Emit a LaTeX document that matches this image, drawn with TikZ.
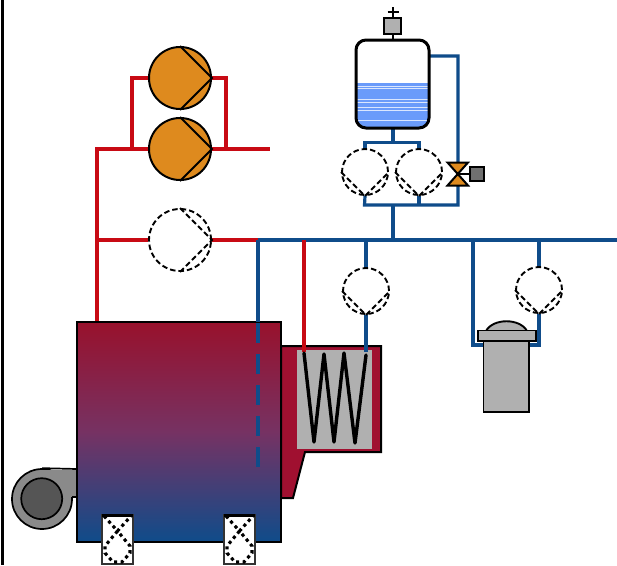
\documentclass[tikz,border=0pt]{standalone}
\usetikzlibrary{calc}
\definecolor{pipeblue}{HTML}{0F4C8A}
\definecolor{pipered}{HTML}{C80A14}
\definecolor{pumporange}{HTML}{DE8A1E}
\definecolor{fluered}{HTML}{A01030}
\definecolor{bred}{HTML}{98112C}
\definecolor{bmid}{HTML}{763263}
\definecolor{water}{HTML}{6A9BFA}
\definecolor{fangray}{HTML}{8A8A8A}
\definecolor{fandark}{HTML}{555555}
\definecolor{partgray}{HTML}{B0B0B0}
\tikzset{
  x=1pt,y=-1pt,
  bluepipe/.style={draw=pipeblue,line width=3.2pt,line join=miter},
  redpipe/.style={draw=pipered,line width=3.2pt,line join=miter},
  pumpon/.style={circle,draw=black,line width=2pt,fill=pumporange,minimum size=62pt,inner sep=0pt},
  pumpoff/.style={circle,draw=black,line width=1.9pt,dash pattern=on 5.5pt off 3pt,fill=white,minimum size=62pt,inner sep=0pt},
  pumpsmall/.style={pumpoff,minimum size=46pt},
  innerline/.style={line width=2pt,black},
  innerdash/.style={line width=1.9pt,black,dash pattern=on 5.5pt off 3pt},
  footdots/.style={line width=3.1pt,black,dash pattern=on 3.2pt off 3.4pt},
  partbox/.style={draw=black,line width=1.9pt,fill=partgray},
}
\begin{document}
\begin{tikzpicture}
\useasboundingbox (0,0) rectangle (617,565);
\fill[white] (0,0) rectangle (617,565);
\draw[black,line width=3pt] (2.3,0) -- (2.3,565);

% pumps
\node[pumpon] (p1) at (180,78) {};
\node[pumpon] (p2) at (180,149) {};
\node[pumpoff] (p3) at (180,240) {};
\node[pumpsmall] (p4) at (365,172) {};
\node[pumpsmall] (p5) at (419,172) {};
\node[pumpsmall] (p6) at (366,291) {};
\node[pumpsmall] (p7) at (539,290) {};

% named pipe points
\coordinate (rA) at (97,322);
\coordinate (rB) at (97,149);
\coordinate (rC) at (97,240);
\coordinate (rD) at (132,149);
\coordinate (rE) at (226,149);
\coordinate (rF) at (270,149);
\coordinate (j1) at (258,240);
\coordinate (j2) at (304,240);
\coordinate (j3) at (366,240);
\coordinate (j4) at (393,240);
\coordinate (j5) at (473,240);
\coordinate (j6) at (539,240);
\coordinate (mainend) at (617,240);
\coordinate (coilA) at (304,352);
\coordinate (coilB) at (366,352);
\coordinate (boilerIn) at (258,322);
\coordinate (boilerEnd) at (258,475);

% red pipes
\draw[redpipe] (rA) -- (rB) -- (p2.west);
\draw[redpipe] (rD) |- (p1.west);
\draw[redpipe] (p1.east) -| (rE);
\draw[redpipe] (p2.east) -- (rF);
\draw[redpipe] (rC) -- (p3.west);
\draw[redpipe] (p3.east) -- (j1);

% boiler and flue
\draw[black,line width=2pt,fill=fluered] (281,346) -- (381,346) -- (381,452) -- (305,452) -- (293,498) -- (281,498) -- cycle;
\shade[top color=bred,bottom color=pipeblue,middle color=bmid] (77,322) rectangle (281,542);
\draw[black,line width=2.2pt] (77,322) rectangle (281,542);
\fill[partgray] (297,350) rectangle (372,449);

% blue pipes
\draw[bluepipe] (j1) -- (mainend);
\draw[redpipe] (j2) -- (coilA);
\draw[bluepipe] (j1) -- (boilerIn);
\draw[draw=pipeblue,line width=4.4pt,dash pattern=on 20pt off 11pt] ($(boilerIn)+(0,1)$) -- (boilerEnd);
\draw[bluepipe] (j3) -- (p6.north);
\draw[bluepipe] (p6.south) -- (coilB);
\draw[bluepipe] (j4) -- (393,205);
\draw[bluepipe] (j5) -- (473,345) -- (484,345);
\draw[bluepipe] (j6) -- (p7.north);
\draw[bluepipe] (p7.south) -- (539,345) -- (529,345);

% coil
\draw[black,line width=3.4pt,line join=round,line cap=round] (304,353) -- (314,442) -- (324,354) -- (334,442) -- (344,353) -- (355,443) -- (366,355);

% tank piping
\draw[bluepipe] (393,128) -- (393,143);
\draw[bluepipe] (p4.north) -- (365,142.5) -- (419,142.5) -- (p5.north);
\draw[bluepipe] (429,56) -- (458,56) -- (458,205) -- (364.5,205) -- (p4.south);
\draw[bluepipe] (419,205) -- (p5.south);

% tank
\begin{scope}
\clip[rounded corners=10pt] (356,40) rectangle (429,128);
\fill[white] (356,40) rectangle (429,128);
\fill[water] (356,83) rectangle (429,128);
\foreach \yy in {86,88.5,99,102,107,110,120}{
  \draw[white!75!water,line width=0.9pt] (356,\yy) -- (429,\yy);
}
\end{scope}
\draw[black,line width=3pt,rounded corners=10pt] (356,40) rectangle (429,128);

% air vent on tank
\draw[black,line width=2.4pt] (393,7) -- (393,40);
\draw[black,line width=2.4pt] (387.5,12) -- (398.5,12);
\node[partbox,minimum size=16.5pt,inner sep=0pt] (vent) at (392.5,26) {};

% valve
\draw[black,line width=2pt] (458,174) -- (471,174);
\draw[black,line width=2pt,fill=pumporange] (447.5,162.5) -- (468,162.5) -- (447.5,185.5) -- (468,185.5) -- cycle;
\node[draw=black,line width=1.9pt,fill=fandark!70!partgray,minimum size=13.5pt,inner sep=0pt] (act) at (477,174) {};

% pump inner lines
\draw[innerline] (p1.90) -- (p1.east) -- (p1.-90);
\draw[innerline] (p2.90) -- (p2.east) -- (p2.-90);
\draw[innerdash] (p3.90) -- (p3.east) -- (p3.-90);
\foreach \pp in {p4,p5,p6,p7}{
  \draw[innerdash] (\pp.west) -- (\pp.south) -- (\pp.east);
}

% separator vessel
\draw[partbox] (486,331) .. controls (493,318) and (520,318) .. (527,331) -- cycle;
\draw[partbox] (483.5,341) rectangle (529,412);
\draw[partbox] (478,330.5) rectangle (536,341);

% fan
\node[circle,draw=black,line width=1.7pt,fill=fangray,minimum size=60pt,inner sep=0pt] (fan) at (42,499) {};
\fill[fangray] (42,470) rectangle (76,497);
\draw[black,line width=1.7pt] (fan.north) -- (77,469);
\draw[black,line width=1.7pt] (72,497) -- (77,497);
\node[circle,draw=black,line width=1.7pt,fill=fandark,minimum size=41pt,inner sep=0pt] (fanhub) at (41.7,498.7) {};

% feet
\foreach \fx in {0,122}{
\begin{scope}[xshift=\fx pt]
  \fill[white] (102,515) rectangle (133,564);
  \draw[black!80,line width=1.6pt] (102,515) rectangle (133,564);
  \draw[black,line width=3.2pt] (102,515.5) -- (133,515.5);
  \draw[footdots] (104,516) -- (117.5,531) -- (131,516);
  \draw[footdots] (117.5,531) -- (105,546) -- (105,553) -- (113,562) -- (122,562) -- (130,553) -- (130,546) -- cycle;
\end{scope}
}
\end{tikzpicture}
\end{document}
